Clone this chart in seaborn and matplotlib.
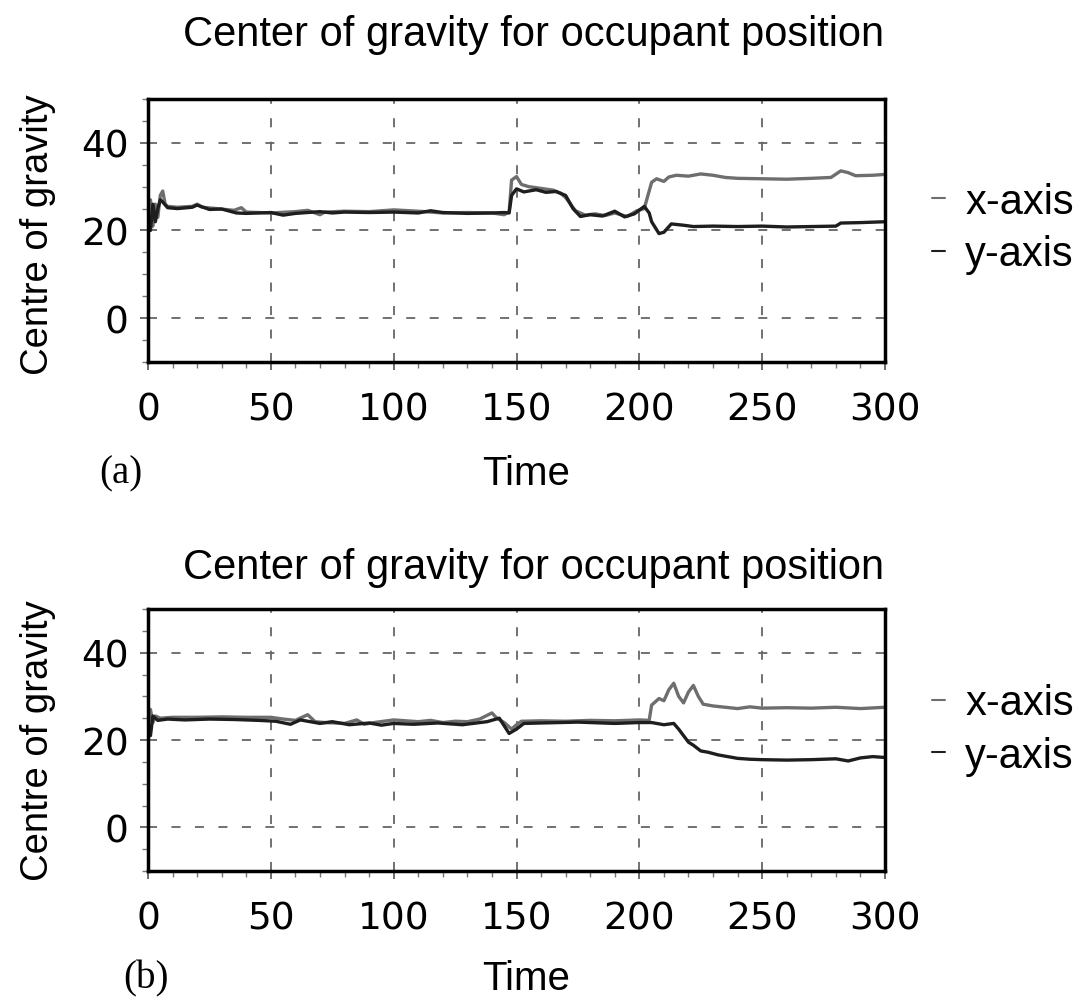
import matplotlib
matplotlib.use("Agg")
import matplotlib.pyplot as plt
import seaborn as sns
import pandas as pd
from matplotlib.ticker import MultipleLocator

sns.set_style("white")
plt.rcParams["font.family"] = "Liberation Sans"
plt.rcParams["text.color"] = "black"

# (a) values
t_a_x = [0, 1, 2, 3, 4, 5, 6, 7, 8, 12, 18, 20, 22, 28, 35, 38, 40, 50, 60, 65, 70, 72, 80, 90,
         100, 110, 120, 130, 140, 145, 147, 148, 150, 152, 155, 160, 165, 168, 170, 172, 174, 178,
         182, 186, 190, 195, 199, 202, 204, 205, 207, 210, 212, 215, 220, 225, 230, 235, 240, 250,
         260, 270, 278, 282, 285, 288, 295, 300]
v_a_x = [20, 27, 21, 26, 23, 28, 29, 26, 25.5, 25.3, 25.5, 26, 25.3, 25, 24.6, 25.2, 24.2, 24.0,
         24.3, 24.6, 23.6, 24.2, 24.4, 24.3, 24.7, 24.4, 24.0, 24.1, 24.0, 23.6, 24.3, 31.5, 32.3,
         30.5, 30, 29.6, 29.2, 28.5, 27.5, 26, 24.5, 23.5, 23.8, 23.4, 24, 23.2, 24.5, 25, 29, 31,
         31.8, 31.2, 32.2, 32.6, 32.4, 32.9, 32.6, 32.1, 31.9, 31.8, 31.7, 31.9, 32.1, 33.6, 33.2,
         32.5, 32.6, 32.8]
t_a_y = [0, 1, 2, 3, 4, 5, 6, 8, 12, 18, 20, 25, 30, 36, 40, 50, 55, 60, 70, 75, 80, 90, 100,
         110, 115, 120, 130, 140, 145, 147, 148, 150, 153, 158, 162, 166, 170, 173, 176, 180, 185,
         190, 194, 198, 202, 204, 205, 208, 210, 213, 218, 222, 230, 240, 250, 260, 270, 280, 282,
         290, 300]
v_a_y = [22, 20, 26, 22, 25, 27, 26.5, 25.2, 25.0, 25.3, 25.8, 24.8, 24.9, 24.0, 23.9, 24.1, 23.5,
         23.9, 24.3, 24.0, 24.2, 24.1, 24.2, 24.0, 24.5, 24.1, 23.9, 24.0, 24.1, 24.0, 28, 29.5,
         28.8, 29.3, 28.7, 28.9, 28, 25, 23.2, 23.6, 23.3, 24.4, 23.1, 23.8, 25.5, 24, 22, 19.3,
         19.6, 21.5, 21.2, 20.9, 21, 20.9, 21, 20.8, 20.9, 21, 21.7, 21.8, 22]

# (b) values
t_b_x = [0, 1, 2, 3, 5, 10, 20, 30, 40, 50, 55, 60, 65, 68, 72, 80, 85, 88, 92, 100, 105, 110,
         115, 120, 125, 130, 135, 140, 142, 145, 148, 150, 152, 160, 170, 180, 190, 200, 204, 205,
         208, 210, 212, 214, 216, 218, 220, 222, 224, 226, 230, 235, 240, 245, 250, 260, 270, 280,
         290, 300]
v_b_x = [22, 27, 24, 25.5, 25, 25.2, 25.2, 25.3, 25.2, 25.2, 24.8, 24.5, 25.8, 24.2, 24, 23.8,
         24.6, 23.6, 24, 24.6, 24.4, 24.2, 24.5, 24.0, 24.3, 24.2, 24.8, 26.2, 25, 24, 22.5, 23.5,
         24.3, 24.4, 24.3, 24.5, 24.4, 24.6, 24.5, 28, 29.5, 29, 31.5, 33, 30, 28.5, 31, 32.5, 30,
         28.2, 27.8, 27.5, 27.2, 27.6, 27.3, 27.4, 27.3, 27.5, 27.2, 27.5]
t_b_y = [0, 1, 2, 4, 8, 15, 25, 35, 45, 52, 58, 62, 70, 75, 82, 90, 95, 100, 108, 118, 128, 138,
         143, 147, 150, 153, 160, 175, 190, 200, 205, 210, 214, 216, 218, 220, 222, 225, 228, 232,
         236, 240, 245, 250, 260, 270, 280, 285, 290, 295, 300]
v_b_y = [24, 21, 25.5, 24.5, 24.8, 24.6, 24.8, 24.7, 24.5, 24.3, 23.6, 24.6, 23.8, 24.2, 23.5,
         23.9, 23.4, 23.8, 23.6, 23.9, 23.5, 24.2, 25, 21.5, 22.5, 23.8, 23.9, 24.1, 23.8, 24.0,
         24, 23.5, 23.8, 22.5, 21, 19.5, 18.8, 17.5, 17.2, 16.6, 16.2, 15.8, 15.6, 15.5, 15.4,
         15.5, 15.7, 15.2, 15.9, 16.2, 16]

x_color = "#6e6e6e"
y_color = "#1e1e1e"


def make_df(t_x, v_x, t_y, v_y):
    d1 = pd.DataFrame({"Time": t_x, "value": v_x, "series": "x-axis"})
    d2 = pd.DataFrame({"Time": t_y, "value": v_y, "series": "y-axis"})
    return pd.concat([d1, d2], ignore_index=True)


def panel(ax, df, leg_y):
    sns.lineplot(data=df, x="Time", y="value", hue="series", ax=ax,
                 palette={"x-axis": x_color, "y-axis": y_color},
                 linewidth=2.4, legend=False)
    ax.set_xlim(0, 300)
    ax.set_ylim(-10, 50)
    ax.set_xticks([0, 50, 100, 150, 200, 250, 300])
    ax.set_yticks([0, 20, 40])
    ax.xaxis.set_minor_locator(MultipleLocator(10))
    ax.yaxis.set_minor_locator(MultipleLocator(5))
    ax.grid(True, which="major", color="#666666", linestyle=(0, (5, 8)), linewidth=1.3)
    ax.tick_params(which="major", direction="out", length=6, width=1.2, color="#555555",
                   labelsize=27, labelcolor="black", bottom=True, left=True)
    ax.tick_params(axis="x", which="major", pad=15)
    ax.tick_params(axis="y", which="major", pad=8)
    ax.tick_params(which="minor", direction="out", length=4, width=1, color="#777777",
                   bottom=True, left=True)
    for lab in ax.get_xticklabels() + ax.get_yticklabels():
        lab.set_family("DejaVu Sans")
    for sp in ax.spines.values():
        sp.set_visible(True)
        sp.set_color("black")
        sp.set_linewidth(2.5)
    ax.set_xlabel("")
    ax.set_ylabel("")

    h1 = plt.Line2D([], [], color=x_color, linewidth=1.5)
    h2 = plt.Line2D([], [], color=y_color, linewidth=1.5)
    ax.legend([h1, h2], ["x-axis", "y-axis"], loc="center left",
              bbox_to_anchor=(1.064, leg_y), frameon=False, fontsize=30,
              borderaxespad=0, borderpad=0,
              handlelength=0.31, handletextpad=0.48, labelspacing=0.3)


fig = plt.figure(figsize=(10.81, 10.03), dpi=100)
ax1 = fig.add_axes([0.1369, 0.6381, 0.6818, 0.2622])
ax2 = fig.add_axes([0.1369, 0.1306, 0.6818, 0.2612])

panel(ax1, make_df(t_a_x, v_a_x, t_a_y, v_a_y), 0.51)
panel(ax2, make_df(t_b_x, v_b_x, t_b_y, v_b_y), 0.54)

for ty, ly, tiy, lab, lx, lay in [(0.965, 0.766, 0.527, "(a)", 0.112, 0.527),
                                  (0.434, 0.262, 0.024, "(b)", 0.135, 0.024)]:
    fig.text(0.494, ty, "Center of gravity for occupant position", fontsize=30,
             ha="center", va="center")
    fig.text(0.035, ly, "Centre of gravity", fontsize=27.5, rotation=90,
             ha="center", va="center")
    fig.text(0.487, tiy, "Time", fontsize=29, ha="center", va="center")
    fig.text(lx, lay, lab, fontsize=28, family="Liberation Serif",
             ha="center", va="center")

fig.savefig("out.png", dpi=100)
